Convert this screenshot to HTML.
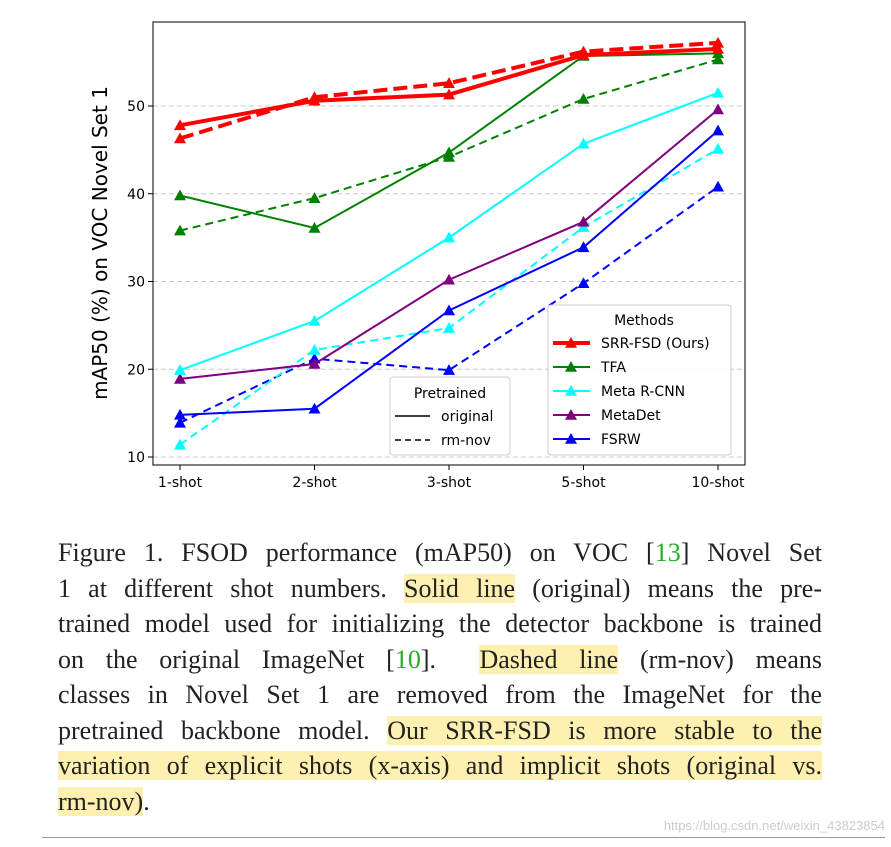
<!DOCTYPE html>
<html><head><meta charset="utf-8"><style>
html,body{margin:0;padding:0;background:#fff;width:891px;height:847px;overflow:hidden;position:relative}
.cap{position:absolute;left:58px;width:764px;font-family:"Liberation Serif",serif;font-size:26px;line-height:35.5px;color:#222;top:535px}
.cap div{text-align:justify;text-align-last:justify;white-space:nowrap;height:35.5px}
.cap div.last{text-align-last:left}
.hl{background:#fdf0b0}
.g{color:#22b022}
</style></head><body>
<svg id="chart" width="891" height="520" style="position:absolute;left:0;top:0" font-family="DejaVu Sans, Liberation Sans, sans-serif"></svg>
<div class="cap">
<div>Figure 1. FSOD performance (mAP50) on VOC [<span class="g">13</span>] Novel Set</div>
<div>1 at different shot numbers. <span class="hl">Solid line</span> (original) means the pre-</div>
<div>trained model used for initializing the detector backbone is trained</div>
<div>on the original ImageNet [<span class="g">10</span>]. &nbsp;<span class="hl">Dashed line</span> (rm-nov) means</div>
<div>classes in Novel Set 1 are removed from the ImageNet for the</div>
<div>pretrained backbone model. <span class="hl">Our SRR-FSD is more stable to the</span></div>
<div><span class="hl">variation of explicit shots (x-axis) and implicit shots (original vs.</span></div>
<div class="last"><span class="hl">rm-nov)</span>.</div>
</div>
<div style="position:absolute;left:42px;top:837px;width:843px;height:1px;background:#999"></div>
<div style="position:absolute;right:6px;top:818px;font-family:'Liberation Sans',sans-serif;font-size:13px;color:#ccc">https://blog.csdn.net/weixin_43823854</div>
<script>
const categories=["1-shot","2-shot","3-shot","5-shot","10-shot"];
const yTicks=[10,20,30,40,50];
const srrSolid=[47.8,50.6,51.3,55.8,56.5];
const srrDashed=[46.3,51.0,52.6,56.2,57.2];
const tfaSolid=[39.8,36.1,44.7,55.7,56.0];
const tfaDashed=[35.8,39.5,44.2,50.8,55.3];
const metaSolid=[19.9,25.5,35.0,45.7,51.5];
const metaDashed=[11.4,22.2,24.7,36.2,45.1];
const metaDetSolid=[18.9,20.6,30.2,36.8,49.6];
const fsrwSolid=[14.8,15.5,26.7,33.9,47.2];
const fsrwDashed=[13.9,21.2,19.9,29.8,40.8];
const svg=document.getElementById('chart');
const NS='http://www.w3.org/2000/svg';
const L=153,R=745,T=22,B=465;
const x=i=>180+i*134.5;
const y=v=>457-(v-10)*8.775;
function mk(tag,attrs,parent){const e=document.createElementNS(NS,tag);for(const k in attrs)e.setAttribute(k,attrs[k]);(parent||svg).appendChild(e);return e;}
yTicks.forEach(v=>{
 const g=mk('line',{x1:L,x2:R,y1:y(v),y2:y(v),stroke:'#ccc','stroke-dasharray':'5,3','stroke-width':1});
 
 
 mk('line',{x1:L-5,x2:L,y1:y(v),y2:y(v),stroke:'#000'});
 const t=mk('text',{x:L-8,y:y(v)+5,'text-anchor':'end','font-size':14});t.textContent=v;
 
 
});
categories.forEach((c,i)=>{
 mk('line',{x1:x(i),x2:x(i),y1:B,y2:B+5,stroke:'#000'});
 const t=mk('text',{x:x(i),y:B+22,'text-anchor':'middle','font-size':14});t.textContent=c;
 
 
});
const yl=mk('text',{x:0,y:0,transform:'translate(107,243) rotate(-90)','text-anchor':'middle','font-size':20});yl.textContent='mAP50 (%) on VOC Novel Set 1';


function tri(cx,cy,s,col,p){return mk('polygon',{points:`${cx},${cy-s} ${cx-s},${cy+s*0.8} ${cx+s},${cy+s*0.8}`,fill:col},p);}
function series(vals,col,dash,w,name){
 const g=mk('g',{});
 
 
 mk('polyline',{points:vals.map((v,i)=>x(i)+','+y(v)).join(' '),fill:'none',stroke:col,'stroke-width':w,'stroke-dasharray':dash?(w>3?'14,6':'8,5'):'none'},g);
 vals.forEach((v,i)=>tri(x(i),y(v),6,col,g));
}
series(fsrwDashed,'#0000ff',true,2,'fsrw-rm-nov-line');
series(metaDashed,'#00ffff',true,2,'meta-rcnn-rm-nov-line');
series(tfaDashed,'#008000',true,2,'tfa-rm-nov-line');
series(fsrwSolid,'#0000ff',false,2,'fsrw-original-line');
series(metaDetSolid,'#800080',false,2,'metadet-original-line');
series(metaSolid,'#00ffff',false,2,'meta-rcnn-original-line');
series(tfaSolid,'#008000',false,2,'tfa-original-line');
series(srrDashed,'#ff0000',true,4,'srr-fsd-rm-nov-line');
series(srrSolid,'#ff0000',false,4,'srr-fsd-original-line');
mk('rect',{x:L,y:T,width:R-L,height:B-T,fill:'none',stroke:'#000','stroke-width':1});
const lp=mk('g',{});


mk('rect',{x:390,y:377,width:120,height:78,rx:3,fill:'#fff','fill-opacity':0.85,stroke:'#ccc'},lp);
let t=mk('text',{x:450,y:398,'text-anchor':'middle','font-size':14},lp);t.textContent='Pretrained';
mk('line',{x1:395,x2:430,y1:416,y2:416,stroke:'#000','stroke-width':1.5},lp);
t=mk('text',{x:441,y:421,'font-size':14},lp);t.textContent='original';
mk('line',{x1:395,x2:430,y1:440,y2:440,stroke:'#000','stroke-width':1.5,'stroke-dasharray':'6,4'},lp);
t=mk('text',{x:441,y:445,'font-size':14},lp);t.textContent='rm-nov';
const lm=mk('g',{});


mk('rect',{x:548,y:305,width:183,height:150,rx:3,fill:'#fff','fill-opacity':0.85,stroke:'#ccc'},lm);
t=mk('text',{x:644,y:325,'text-anchor':'middle','font-size':14},lm);t.textContent='Methods';
const names=['SRR-FSD (Ours)','TFA','Meta R-CNN','MetaDet','FSRW'];
const cols=['#ff0000','#008000','#00ffff','#800080','#0000ff'];
names.forEach((n,i)=>{const yy=343+i*24;
 mk('line',{x1:553,x2:590,y1:yy,y2:yy,stroke:cols[i],'stroke-width':i?2:4},lm);
 tri(571,yy,6,cols[i],lm);
 const tt=mk('text',{x:601,y:yy+5,'font-size':14},lm);tt.textContent=n;
});
</script>
</body></html>
